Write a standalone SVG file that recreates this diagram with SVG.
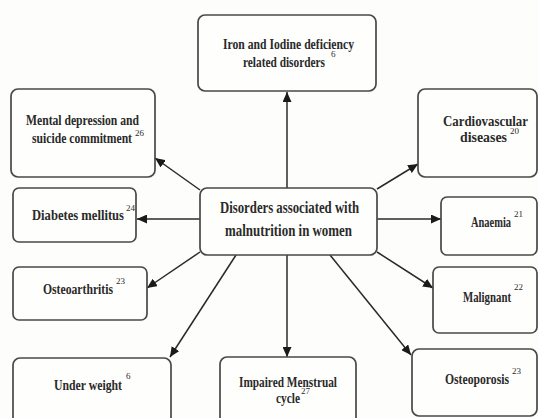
<svg xmlns="http://www.w3.org/2000/svg" width="539" height="418" viewBox="0 0 539 418">
<defs>
<marker id="ah" markerUnits="userSpaceOnUse" markerWidth="11" markerHeight="9" refX="10" refY="4.5" orient="auto">
<path d="M0,0 L10,4.5 L0,9 Z" fill="#1a1a1a"/>
</marker>
</defs>
<style>
.box{fill:#fefefc;stroke:#484848;stroke-width:1.7}
.t{font-family:"Liberation Serif","Times New Roman",serif;font-weight:bold;font-size:14px;fill:#2a2a2a}
.c{font-size:16px}
.s{font-family:"Liberation Serif","Times New Roman",serif;font-weight:normal;font-size:9px;fill:#2a2a2a}
.ln{stroke:#2a2a2a;stroke-width:1.5;fill:none;marker-end:url(#ah)}
</style>
<rect width="539" height="418" fill="#fdfdfb"/>
<g id="connectors">
<line class="ln" x1="287" y1="188" x2="287" y2="92"/>
<line class="ln" x1="200" y1="190" x2="155" y2="158"/>
<line class="ln" x1="200" y1="219" x2="137" y2="219"/>
<line class="ln" x1="200" y1="252" x2="147" y2="288"/>
<line class="ln" x1="236" y1="255" x2="170" y2="357"/>
<line class="ln" x1="287" y1="255" x2="287" y2="357"/>
<line class="ln" x1="330" y1="255" x2="411" y2="355"/>
<line class="ln" x1="377" y1="252" x2="433" y2="288"/>
<line class="ln" x1="377" y1="219" x2="441" y2="219"/>
<line class="ln" x1="377" y1="189" x2="418" y2="164"/>
</g>
<g id="center">
<rect class="box" x="200" y="188" width="177" height="67" rx="7"/>
<text class="t c" x="220" y="213" textLength="139" lengthAdjust="spacingAndGlyphs">Disorders associated with</text>
<text class="t c" x="225" y="236" textLength="127" lengthAdjust="spacingAndGlyphs">malnutrition in women</text>
</g>
<g id="iron">
<rect class="box" x="198" y="15" width="178" height="76" rx="7"/>
<text class="t" x="223" y="49" textLength="131" lengthAdjust="spacingAndGlyphs">Iron and Iodine deficiency</text>
<text class="t" x="243" y="67"><tspan textLength="82" lengthAdjust="spacingAndGlyphs">related disorders</tspan><tspan class="s" dx="6" dy="-10">6</tspan></text>
</g>
<g id="mental">
<rect class="box" x="11" y="89" width="144" height="88" rx="7"/>
<text class="t" x="26" y="125" textLength="113" lengthAdjust="spacingAndGlyphs">Mental depression and</text>
<text class="t" x="32" y="143"><tspan textLength="100" lengthAdjust="spacingAndGlyphs">suicide commitment</tspan><tspan class="s" dx="3" dy="-7">26</tspan></text>
</g>
<g id="cardio">
<rect class="box" x="418" y="89" width="119" height="88" rx="7"/>
<text class="t" x="443" y="126" textLength="85" lengthAdjust="spacingAndGlyphs">Cardiovascular</text>
<text class="t" x="460" y="142"><tspan textLength="47" lengthAdjust="spacingAndGlyphs">diseases</tspan><tspan class="s" dx="3" dy="-8">20</tspan></text>
</g>
<g id="diabetes">
<rect class="box" x="13" y="188" width="123" height="54" rx="6"/>
<text class="t" x="32" y="220"><tspan textLength="92" lengthAdjust="spacingAndGlyphs">Diabetes mellitus</tspan><tspan class="s" dx="2" dy="-9">24</tspan></text>
</g>
<g id="anaemia">
<rect class="box" x="441" y="197" width="96" height="58" rx="6"/>
<text class="t" x="471" y="227"><tspan textLength="40" lengthAdjust="spacingAndGlyphs">Anaemia</tspan><tspan class="s" dx="3" dy="-10">21</tspan></text>
</g>
<g id="osteoarthritis">
<rect class="box" x="13" y="267" width="134" height="53" rx="6"/>
<text class="t" x="43" y="294"><tspan textLength="70" lengthAdjust="spacingAndGlyphs">Osteoarthritis</tspan><tspan class="s" dx="3" dy="-10">23</tspan></text>
</g>
<g id="malignant">
<rect class="box" x="433" y="267" width="104" height="66" rx="6"/>
<text class="t" x="463" y="302"><tspan textLength="48" lengthAdjust="spacingAndGlyphs">Malignant</tspan><tspan class="s" dx="3" dy="-12">22</tspan></text>
</g>
<g id="underweight">
<rect class="box" x="13" y="358" width="158" height="70" rx="7"/>
<text class="t" x="54" y="390"><tspan textLength="68" lengthAdjust="spacingAndGlyphs">Under weight</tspan><tspan class="s" dx="4" dy="-11">6</tspan></text>
</g>
<g id="impaired">
<rect class="box" x="220" y="357" width="136" height="70" rx="7"/>
<text class="t" x="239" y="387" textLength="98" lengthAdjust="spacingAndGlyphs">Impaired  Menstrual</text>
<text class="t" x="276" y="403"><tspan textLength="24" lengthAdjust="spacingAndGlyphs">cycle</tspan><tspan class="s" dx="1" dy="-9">27</tspan></text>
</g>
<g id="osteoporosis">
<rect class="box" x="412" y="349" width="125" height="67" rx="7"/>
<text class="t" x="445" y="384"><tspan textLength="64" lengthAdjust="spacingAndGlyphs">Osteoporosis</tspan><tspan class="s" dx="3" dy="-10">23</tspan></text>
</g>
</svg>
